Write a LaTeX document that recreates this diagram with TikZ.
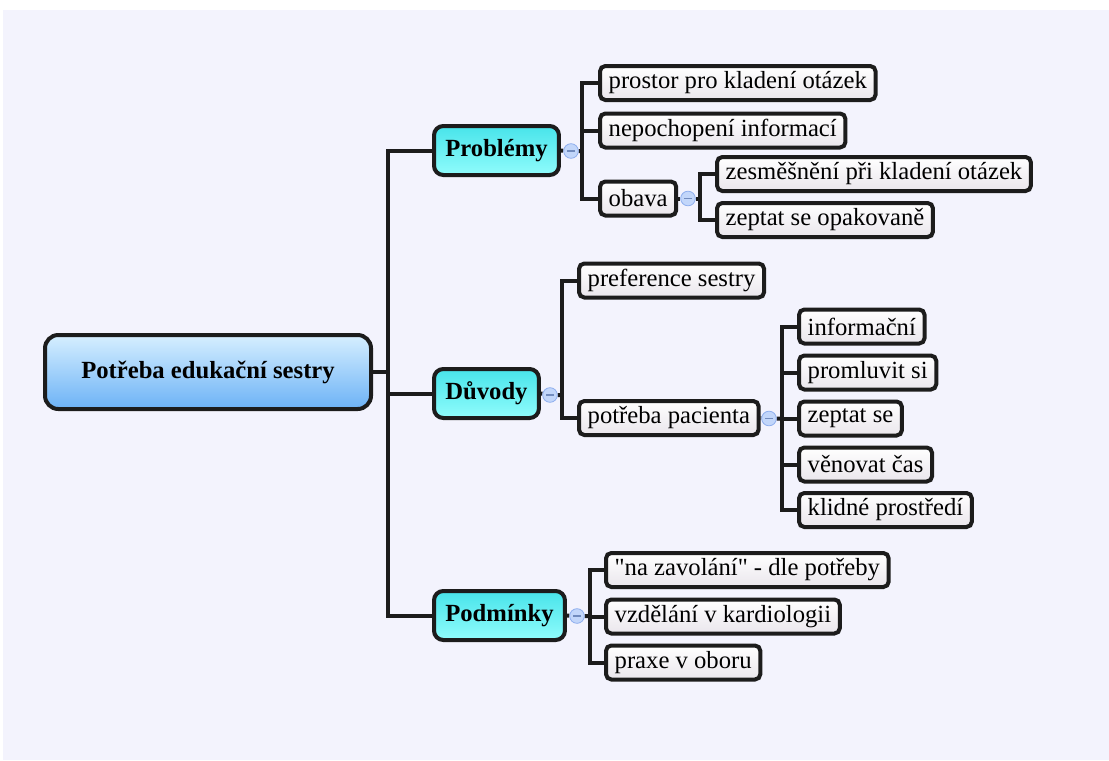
\documentclass[tikz,border=0pt]{standalone}
\usepackage{fontspec}
\setmainfont{Liberation Serif}[Ligatures=TeXOff]
\pgfdeclarelayer{canvas}
\pgfdeclarelayer{background}
\pgfsetlayers{canvas,background,main}
\definecolor{paper}{HTML}{F3F3FD}
\definecolor{edge}{HTML}{1C1C1C}
\definecolor{rootTop}{HTML}{D6EFFF}
\definecolor{rootBot}{HTML}{6CB2F6}
\definecolor{mainTop}{HTML}{48E4EA}
\definecolor{mainBot}{HTML}{90FCFC}
\definecolor{leafBot}{HTML}{EAE6EC}
\definecolor{knobFill}{HTML}{C2D6FA}
\definecolor{knobLine}{HTML}{8EAEEE}
\tikzset{
  rootbox/.style={draw=edge, line width=3pt, rounded corners=10pt,
    top color=rootTop, bottom color=rootBot,
    minimum width=244.5pt, minimum height=55.5pt, inner sep=0pt,
    font=\fontsize{18.5pt}{21pt}\selectfont\bfseries},
  mainbox/.style={draw=edge, line width=3pt, rounded corners=7pt,
    top color=mainTop, bottom color=mainBot, anchor=west,
    inner xsep=8.5pt, inner ysep=0pt, minimum height=36.75pt,
    font=\fontsize{18.5pt}{21pt}\selectfont\bfseries},
  leafbox/.style={draw=edge, line width=3pt, rounded corners=4pt,
    top color=white, bottom color=leafBot, anchor=west,
    inner xsep=6.5pt, inner ysep=0pt, minimum height=25.5pt,
    font=\fontsize{18.5pt}{21pt}\selectfont},
  knob/.style={circle, draw=knobLine, line width=0.6pt, fill=knobFill,
    minimum size=11pt, inner sep=0pt,
    path picture={\draw[knobLine!80!black, line width=0.8pt]
      ([xshift=2.5pt]path picture bounding box.west) --
      ([xshift=-2.5pt]path picture bounding box.east);}},
  link/.style={draw=edge, line width=3pt},
}
\begin{document}
\begin{tikzpicture}[x=0.75pt, y=-0.75pt]
  % canvas
  \begin{pgfonlayer}{canvas}
    \fill[white] (0,0) rectangle (1109,760);
    \fill[paper] (3,10) rectangle (1109,760);
  \end{pgfonlayer}
  \useasboundingbox (0,0) rectangle (1109,760);

  % central topic
  \node[rootbox] (root) at (208,372) {Potřeba edukační sestry};

  % main branches
  \node[mainbox] (prob) at (432,150.5) {Problémy};
  \node[mainbox] (duv)  at (432,393.5) {Důvody};
  \node[mainbox] (podm) at (432,615.5) {Podmínky};

  % Problémy
  \node[leafbox] (p1) at (598,83)    {prostor pro kladení otázek};
  \node[leafbox] (p2) at (598,130.5) {nepochopení informací};
  \node[leafbox] (p3) at (598,198.5) {obava};
  \node[leafbox] (o1) at (715,174)   {zesměšnění při kladení otázek};
  \node[leafbox] (o2) at (715,220)   {zeptat se opakovaně};

  % Důvody
  \node[leafbox] (d1) at (577,280.5) {preference sestry};
  \node[leafbox] (d2) at (577,418)   {potřeba pacienta};
  \node[leafbox] (n1) at (797,326.5) {informační};
  \node[leafbox] (n2) at (797,372.5) {promluvit si};
  \node[leafbox] (n3) at (797,418.5) {zeptat se};
  \node[leafbox] (n4) at (797,464.5) {věnovat čas};
  \node[leafbox] (n5) at (797,510)   {klidné prostředí};

  % Podmínky
  \node[leafbox] (c1) at (604,570)   {"na zavolání" - dle potřeby};
  \node[leafbox] (c2) at (604,616.5) {vzdělání v kardiologii};
  \node[leafbox] (c3) at (604,662.5) {praxe v oboru};

  % collapse knobs
  \node[knob] (kprob) at (571,151)   {};
  \node[knob] (kobav) at (688,198.5) {};
  \node[knob] (kduv)  at (550,395)   {};
  \node[knob] (kpac)  at (769,418.5) {};
  \node[knob] (kpodm) at (577,616)   {};

  % bus points
  \coordinate (trunk) at (388,372);
  \coordinate (bprob) at (582,151);
  \coordinate (bobav) at (700,198.5);
  \coordinate (bduv)  at (562,395);
  \coordinate (bpac)  at (782,418.5);
  \coordinate (bpodm) at (590,616);

  \begin{pgfonlayer}{background}
    \draw[link] (root.east) -- (trunk);
    \draw[link] (trunk) |- (prob.west);
    \draw[link] (trunk) |- (duv.west);
    \draw[link] (trunk) |- (podm.west);

    \draw[link] (prob.east) -- (kprob) -- (bprob);
    \foreach \c in {p1,p2,p3} \draw[link] (bprob) |- (\c.west);
    \draw[link] (p3.east) -- (kobav) -- (bobav);
    \foreach \c in {o1,o2} \draw[link] (bobav) |- (\c.west);

    \draw[link] (duv.east) -- (kduv) -- (bduv);
    \foreach \c in {d1,d2} \draw[link] (bduv) |- (\c.west);
    \draw[link] (d2.east) -- (kpac) -- (bpac);
    \foreach \c in {n1,n2,n3,n4,n5} \draw[link] (bpac) |- (\c.west);

    \draw[link] (podm.east) -- (kpodm) -- (bpodm);
    \foreach \c in {c1,c2,c3} \draw[link] (bpodm) |- (\c.west);
  \end{pgfonlayer}
\end{tikzpicture}
\end{document}
